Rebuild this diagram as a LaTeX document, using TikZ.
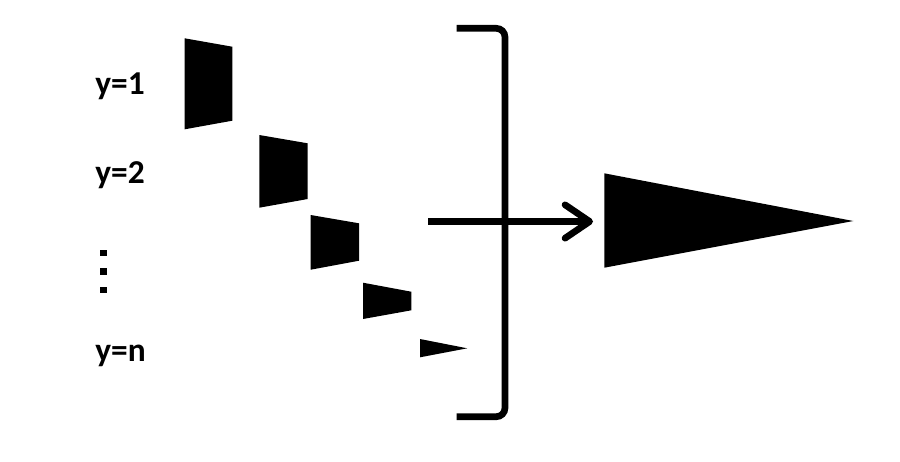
\documentclass[tikz,border=0pt]{standalone}
\usepackage{fontspec}
\setmainfont{Carlito}
\usepackage{tikz}
\usetikzlibrary{arrows.meta}
\tikzset{
    px/.style={x=0.02cm,y=-0.02cm},
    LB/.style={anchor=base west,inner sep=0pt,font=\fontsize{19}{21}\selectfont\bfseries},
    BK/.style={fill=black},
    TH/.style={line width=3.8pt},
    AR/.style={TH,-{Straight Barb[round,length=14pt,width=19pt]}}
}
\begin{document}
\begin{tikzpicture}[px]
            \useasboundingbox (0,0) rectangle (900,461);
            \draw (95,94) node[LB] (y1) {y=1};
            \draw (95,183.3) node[LB] (y2) {y=2};
            \draw (95,361.7) node[LB] (yn) {y=n};
            \fill (100,250) rectangle (106.7,256.3);
            \fill (100,268.3) rectangle (106.7,274.6);
            \fill (100,286.7) rectangle (106.7,293.3);
            \fill[BK] (184.7,38.3) -- (232.3,46.7) -- (232.3,120.7) -- (184.7,129.3) -- cycle;
            \fill[BK] (259.3,135) -- (307.7,143.3) -- (307.7,199) -- (259.3,207.7) -- cycle;
            \fill[BK] (310.7,215) -- (359,223.3) -- (359,260.7) -- (310.7,269.7) -- cycle;
            \fill[BK] (363,282.7) -- (411.3,291.7) -- (411.3,310.3) -- (363,319) -- cycle;
            \fill[BK] (420,339) -- (467.3,348.3) -- (420,357.3) -- cycle;
            \draw[TH,rounded corners=5pt] (456.7,28.3) -- (505,28.3) -- (505,416.7) -- (456.7,416.7);
            \coordinate (in) at (428.3,221.5);
            \coordinate (out) at (593,221.5);
            \draw[AR] (in) -- (out);
            \fill[BK] (604.3,173.3) -- (853.3,221) -- (604.3,267.7) -- cycle;
        \end{tikzpicture}
\end{document}
